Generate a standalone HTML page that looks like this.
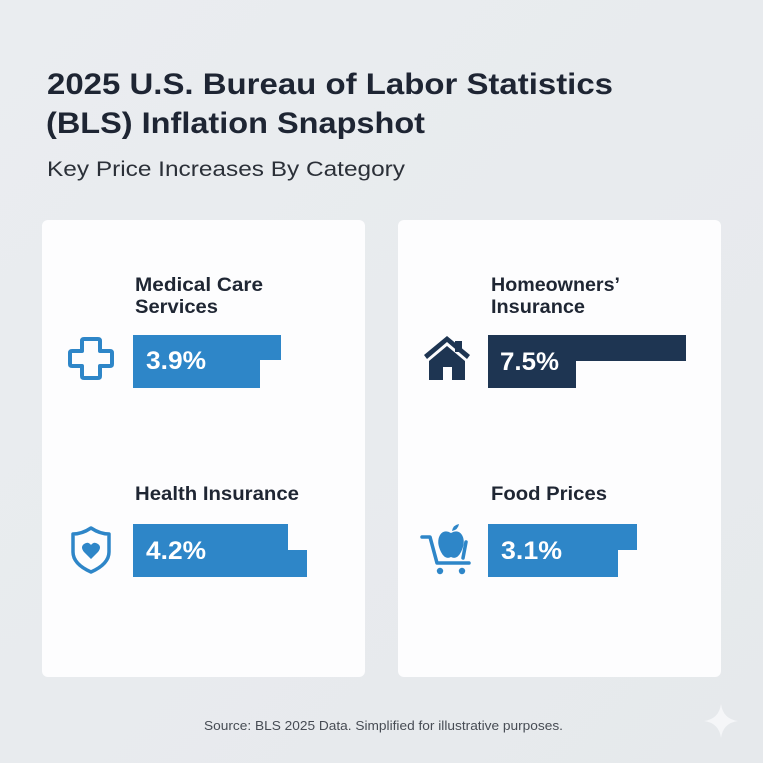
<!DOCTYPE html>
<html>
<head>
<meta charset="utf-8">
<style>
  html,body{margin:0;padding:0;}
  body{width:763px;height:763px;overflow:hidden;background:#e8ebee;}
  svg{display:block;}
  text{font-family:"Liberation Sans",Arial,sans-serif;}
</style>
</head>
<body>
<svg width="763" height="763" viewBox="0 0 763 763" xmlns="http://www.w3.org/2000/svg">
  <defs>
    <linearGradient id="bg" x1="0" y1="0" x2="1" y2="1">
      <stop offset="0" stop-color="#eaedf0"/>
      <stop offset="1" stop-color="#e6e9ec"/>
    </linearGradient>
  </defs>
  <rect width="763" height="763" fill="url(#bg)"/>

  <!-- Title -->
  <text x="47" y="94" font-size="30" font-weight="bold" fill="#1e2533" textLength="566" lengthAdjust="spacingAndGlyphs">2025 U.S. Bureau of Labor Statistics</text>
  <text x="46" y="133" font-size="30" font-weight="bold" fill="#1e2533" textLength="379" lengthAdjust="spacingAndGlyphs">(BLS) Inflation Snapshot</text>
  <text x="47" y="176" font-size="21" fill="#2b3038" textLength="358" lengthAdjust="spacingAndGlyphs">Key Price Increases By Category</text>

  <!-- Cards -->
  <rect x="42" y="220" width="323" height="457" rx="6" fill="#fdfdfe"/>
  <rect x="398" y="220" width="323" height="457" rx="6" fill="#fdfdfe"/>

  <!-- Medical Care Services -->
  <text x="135" y="291" font-size="19" font-weight="bold" fill="#1f2633" textLength="128" lengthAdjust="spacingAndGlyphs">Medical Care</text>
  <text x="135" y="313" font-size="19" font-weight="bold" fill="#1f2633" textLength="83" lengthAdjust="spacingAndGlyphs">Services</text>
  <path d="M133 335 H281 V360 H260 V388 H133 Z" fill="#2e86c8"/>
  <text x="146" y="369" font-size="25" font-weight="bold" fill="#ffffff" textLength="60" lengthAdjust="spacingAndGlyphs">3.9%</text>
  <!-- cross icon -->
  <path d="M84 339 H98 Q100 339 100 341 V351 H110 Q112 351 112 353 V364 Q112 366 110 366 H100 V376 Q100 378 98 378 H84 Q82 378 82 376 V366 H72 Q70 366 70 364 V353 Q70 351 72 351 H82 V341 Q82 339 84 339 Z" fill="none" stroke="#2e86c8" stroke-width="4" stroke-linejoin="round"/>

  <!-- Homeowners' Insurance -->
  <text x="491" y="291" font-size="19" font-weight="bold" fill="#1f2633" textLength="129" lengthAdjust="spacingAndGlyphs">Homeowners’</text>
  <text x="491" y="313" font-size="19" font-weight="bold" fill="#1f2633" textLength="94" lengthAdjust="spacingAndGlyphs">Insurance</text>
  <path d="M488 335 H686 V361 H576 V388 H488 Z" fill="#1e3552"/>
  <text x="500" y="370" font-size="25" font-weight="bold" fill="#ffffff" textLength="59" lengthAdjust="spacingAndGlyphs">7.5%</text>
  <!-- house icon -->
  <g fill="#1e3552">
    <rect x="455" y="341" width="7" height="11"/>
    <path d="M447 336 L470 355 L467 359 L447 342 L427 359 L424 355 Z"/>
    <path d="M447 346 L465 361 V380 H452 V367 H443 V380 H429 V361 Z"/>
  </g>

  <!-- Health Insurance -->
  <text x="135" y="500" font-size="19" font-weight="bold" fill="#1f2633" textLength="164" lengthAdjust="spacingAndGlyphs">Health Insurance</text>
  <path d="M133 524 H288 V550 H307 V577 H133 Z" fill="#2e86c8"/>
  <text x="146" y="559" font-size="25" font-weight="bold" fill="#ffffff" textLength="60" lengthAdjust="spacingAndGlyphs">4.2%</text>
  <!-- shield icon -->
  <path d="M91 528 Q100 534 109 534 V552 Q109 564 91 572 Q73 564 73 552 V534 Q82 534 91 528 Z" fill="none" stroke="#2e86c8" stroke-width="3.5" stroke-linejoin="round"/>
  <path d="M91 559 L84 552 Q80 547 84 544 Q88 541 91 545 Q94 541 98 544 Q102 547 98 552 Z" fill="#2e86c8"/>

  <!-- Food Prices -->
  <text x="491" y="500" font-size="19" font-weight="bold" fill="#1f2633" textLength="116" lengthAdjust="spacingAndGlyphs">Food Prices</text>
  <path d="M488 524 H637 V550 H618 V577 H488 Z" fill="#2e86c8"/>
  <text x="501" y="559" font-size="25" font-weight="bold" fill="#ffffff" textLength="61" lengthAdjust="spacingAndGlyphs">3.1%</text>
  <!-- cart with apple -->
  <g fill="none" stroke="#2e86c8" stroke-width="3.5" stroke-linecap="round" stroke-linejoin="round">
    <path d="M422 537 H430 L437 563 H469"/>
    <path d="M466 542 L463 558"/>
  </g>
  <g fill="#2e86c8">
    <path d="M451 533 Q444 529 440 535 Q436 542 441 552 Q445 560 451 557 Q457 560 461 552 Q466 542 462 535 Q458 529 451 533 Z"/>
    <path d="M452 531 Q453 525 459 524 Q458 530 452 531 Z"/>
    <circle cx="440" cy="571" r="3.2"/>
    <circle cx="462" cy="571" r="3.2"/>
  </g>

  <!-- Source -->
  <text x="204" y="730" font-size="12.5" fill="#474c54" textLength="359" lengthAdjust="spacingAndGlyphs">Source: BLS 2025 Data. Simplified for illustrative purposes.</text>

  <!-- sparkle -->
  <path d="M721 704 Q723 719 738 721 Q723 723 721 738 Q719 723 704 721 Q719 719 721 704 Z" fill="#f6f7f9" opacity="0.9"/>
</svg>
</body>
</html>
